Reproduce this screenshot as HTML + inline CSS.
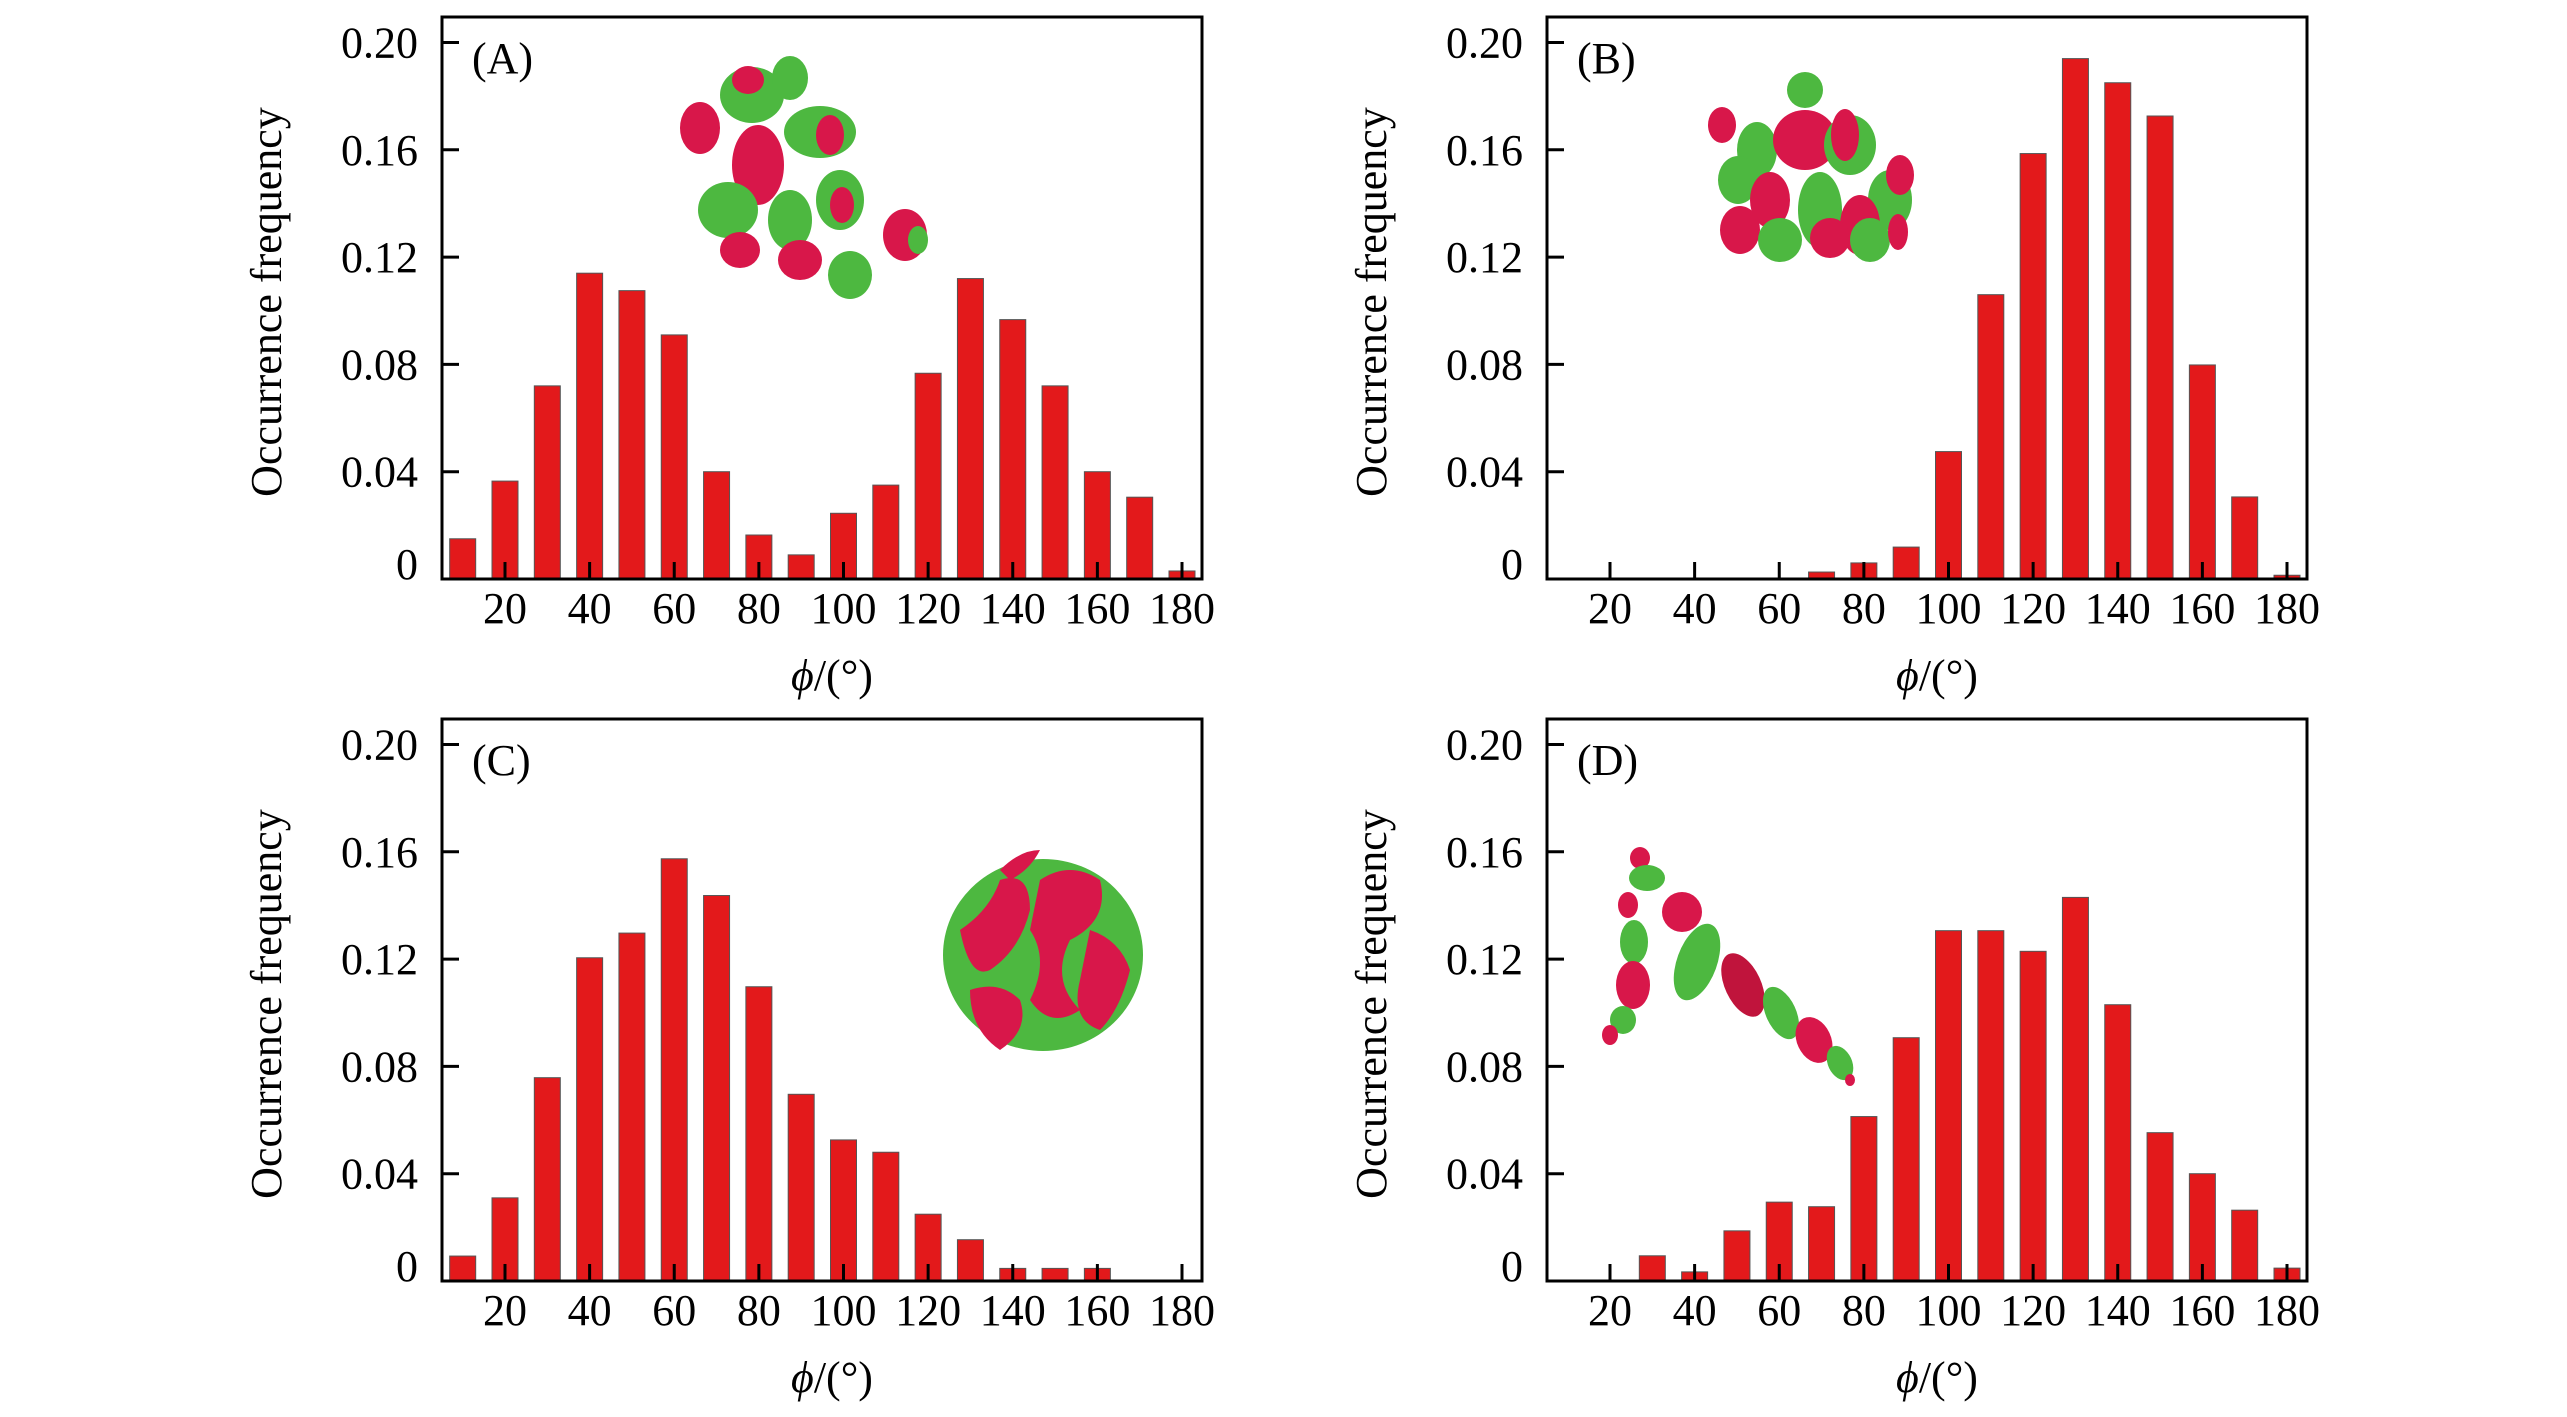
<!DOCTYPE html>
<html><head><meta charset="utf-8"><style>
html,body{margin:0;padding:0;background:#fff;}
svg{display:block;}
text{font-family:"Liberation Serif",serif;fill:#000;}
</style></head><body>
<svg id="fig" width="2567" height="1417" viewBox="0 0 2567 1417" xmlns="http://www.w3.org/2000/svg">
<g id="mols">
 <g>
  <ellipse cx="700" cy="128" rx="20" ry="26" fill="#d8174a"/>
  <ellipse cx="752" cy="95" rx="32" ry="28" fill="#4db840"/>
  <ellipse cx="748" cy="80" rx="16" ry="14" fill="#d8174a"/>
  <ellipse cx="790" cy="78" rx="18" ry="22" fill="#4db840"/>
  <ellipse cx="820" cy="132" rx="36" ry="26" fill="#4db840"/>
  <ellipse cx="830" cy="135" rx="14" ry="20" fill="#d8174a"/>
  <ellipse cx="758" cy="165" rx="26" ry="40" fill="#d8174a"/>
  <ellipse cx="728" cy="210" rx="30" ry="28" fill="#4db840"/>
  <ellipse cx="740" cy="250" rx="20" ry="18" fill="#d8174a"/>
  <ellipse cx="790" cy="220" rx="22" ry="30" fill="#4db840"/>
  <ellipse cx="840" cy="200" rx="24" ry="30" fill="#4db840"/>
  <ellipse cx="842" cy="205" rx="12" ry="18" fill="#d8174a"/>
  <ellipse cx="800" cy="260" rx="22" ry="20" fill="#d8174a"/>
  <ellipse cx="850" cy="275" rx="22" ry="24" fill="#4db840"/>
  <ellipse cx="905" cy="235" rx="22" ry="26" fill="#d8174a"/>
  <ellipse cx="918" cy="240" rx="10" ry="14" fill="#4db840"/>
 </g>
 <g>
  <ellipse cx="1722" cy="125" rx="14" ry="18" fill="#d8174a"/>
  <ellipse cx="1805" cy="90" rx="18" ry="18" fill="#4db840"/>
  <ellipse cx="1757" cy="150" rx="20" ry="28" fill="#4db840"/>
  <ellipse cx="1805" cy="140" rx="32" ry="30" fill="#d8174a"/>
  <ellipse cx="1850" cy="145" rx="26" ry="30" fill="#4db840"/>
  <ellipse cx="1845" cy="135" rx="14" ry="26" fill="#d8174a"/>
  <ellipse cx="1890" cy="200" rx="22" ry="30" fill="#4db840"/>
  <ellipse cx="1900" cy="175" rx="14" ry="20" fill="#d8174a"/>
  <ellipse cx="1738" cy="180" rx="20" ry="24" fill="#4db840"/>
  <ellipse cx="1770" cy="200" rx="20" ry="28" fill="#d8174a"/>
  <ellipse cx="1820" cy="210" rx="22" ry="38" fill="#4db840"/>
  <ellipse cx="1860" cy="225" rx="20" ry="30" fill="#d8174a"/>
  <ellipse cx="1740" cy="230" rx="20" ry="24" fill="#d8174a"/>
  <ellipse cx="1780" cy="240" rx="22" ry="22" fill="#4db840"/>
  <ellipse cx="1830" cy="238" rx="20" ry="20" fill="#d8174a"/>
  <ellipse cx="1870" cy="240" rx="20" ry="22" fill="#4db840"/>
  <ellipse cx="1898" cy="232" rx="10" ry="18" fill="#d8174a"/>
 </g>
 <g>
  <ellipse cx="1043" cy="955" rx="100" ry="96" fill="#4db840"/>
  <path d="M960,930 q30,-20 40,-50 q30,-10 30,30 q-10,40 -40,60 q-20,10 -30,-40z" fill="#d8174a"/>
  <path d="M1040,880 q30,-20 60,0 q10,40 -30,60 q-20,40 10,70 q-30,20 -50,-10 q20,-40 0,-70z" fill="#d8174a"/>
  <path d="M1090,930 q30,10 40,40 q-10,40 -30,60 q-30,-10 -20,-50z" fill="#d8174a"/>
  <path d="M970,990 q30,-10 50,10 q10,30 -20,50 q-30,-20 -30,-60z" fill="#d8174a"/>
  <path d="M1000,870 q20,-20 40,-20 q-10,20 -30,30z" fill="#d8174a"/>
 </g>
 <g>
  <ellipse cx="1640" cy="858" rx="10" ry="11" fill="#d8174a"/>
  <ellipse cx="1647" cy="878" rx="18" ry="13" fill="#4db840"/>
  <ellipse cx="1628" cy="905" rx="10" ry="13" fill="#d8174a"/>
  <ellipse cx="1682" cy="912" rx="20" ry="20" fill="#d8174a"/>
  <ellipse cx="1634" cy="942" rx="14" ry="22" fill="#4db840"/>
  <ellipse cx="1633" cy="985" rx="17" ry="24" fill="#d8174a"/>
  <ellipse cx="1623" cy="1020" rx="13" ry="14" fill="#4db840"/>
  <ellipse cx="1610" cy="1035" rx="8" ry="10" fill="#d8174a"/>
  <ellipse cx="1697" cy="962" rx="20" ry="40" transform="rotate(20 1697 962)" fill="#4db840"/>
  <ellipse cx="1743" cy="985" rx="18" ry="34" transform="rotate(-25 1743 985)" fill="#c0143c"/>
  <ellipse cx="1781" cy="1013" rx="15" ry="28" transform="rotate(-25 1781 1013)" fill="#4db840"/>
  <ellipse cx="1814" cy="1040" rx="17" ry="24" transform="rotate(-25 1814 1040)" fill="#d8174a"/>
  <ellipse cx="1840" cy="1063" rx="12" ry="18" transform="rotate(-25 1840 1063)" fill="#4db840"/>
  <ellipse cx="1850" cy="1080" rx="5" ry="6" fill="#d8174a"/>
 </g>
</g>
</svg>
<script>
const categories = [10,20,30,40,50,60,70,80,90,100,110,120,130,140,150,160,170,180];
const valuesA = [0.015,0.0365,0.072,0.114,0.1075,0.091,0.040,0.0164,0.009,0.0245,0.035,0.0767,0.112,0.0967,0.072,0.040,0.0305,0.003];
const valuesB = [0,0,0,0,0,0,0.0026,0.006,0.0119,0.0475,0.106,0.1586,0.194,0.185,0.1726,0.0798,0.0306,0.0014];
const valuesC = [0.0093,0.031,0.0758,0.1205,0.1297,0.1574,0.1437,0.1097,0.0696,0.0526,0.048,0.0249,0.0154,0.0047,0.0047,0.0047,0,0];
const valuesD = [0,0,0.0094,0.0034,0.0187,0.0294,0.0277,0.0613,0.0907,0.1306,0.1306,0.1229,0.143,0.103,0.0553,0.040,0.0264,0.0048];
const xTicks = [20,40,60,80,100,120,140,160,180];
const yTicks = [0,0.04,0.08,0.12,0.16,0.20];
const yTickLabels = ["0","0.04","0.08","0.12","0.16","0.20"];
const panelLabels = ["(A)","(B)","(C)","(D)"];

const NS="http://www.w3.org/2000/svg";
const svg=document.getElementById('fig');
const mols=document.getElementById('mols');
function mk(tag,attrs,parent){const e=document.createElementNS(NS,tag);for(const k in attrs)e.setAttribute(k,attrs[k]);(parent||svg).appendChild(e);return e;}

const panels=[{dx:0,dy:0,v:valuesA,id:'a'},{dx:1105,dy:0,v:valuesB,id:'b'},{dx:0,dy:702,v:valuesC,id:'c'},{dx:1105,dy:702,v:valuesD,id:'d'}];
panels.forEach((p,pi)=>{
  const g=mk('g',{});
  
  
  svg.insertBefore(g,mols);
  const left=442+p.dx,right=1202+p.dx,top=17+p.dy,zero=579+p.dy;
  const perDeg=(1182-505)/160;
  const xs=d=>505+p.dx+(d-20)*perDeg;
  const ys=v=>zero-v*(107.3/0.04);
  p.v.forEach((val,i)=>{
    if(val<=0)return;
    const y=ys(val);
    const r=mk('rect',{x:xs(categories[i])-13,y:y,width:26,height:zero-y,fill:'#e3191b',stroke:'#555',"stroke-width":1},g);
    
    
  });
  const f=mk('rect',{x:left,y:top,width:right-left,height:zero-top,fill:'none',stroke:'#000',"stroke-width":3},g);
  
  
  xTicks.forEach(t=>{
    const x=xs(t);
    mk('line',{x1:x,x2:x,y1:zero,y2:zero-17,stroke:'#000',"stroke-width":3},g);
    const tx=mk('text',{x:x,y:zero+44,"font-size":44,"text-anchor":"middle"},g);
    tx.textContent=t;
    
    
  });
  yTicks.forEach((t,i)=>{
    const y=ys(t);
    if(i>0)mk('line',{x1:left,x2:left+17,y1:y,y2:y,stroke:'#000',"stroke-width":3},g);
    const tx=mk('text',{x:418+p.dx,y:i===0?y:y+15,"font-size":44,"text-anchor":"end"},g);
    tx.textContent=yTickLabels[i];
    
    
  });
  const pl=mk('text',{x:472+p.dx,y:73+p.dy,"font-size":44},g);
  pl.textContent=panelLabels[pi];
  
  
  const yt=mk('text',{x:0,y:0,"font-size":44,"text-anchor":"middle",transform:`translate(${281+p.dx},${302+p.dy}) rotate(-90)`},g);
  yt.textContent='Occurrence frequency';
  
  
  const xt=mk('text',{x:832+p.dx,y:690+p.dy,"font-size":44,"text-anchor":"middle"},g);
  xt.innerHTML='<tspan font-style="italic">ϕ</tspan>/(°)';
  
  
});
</script>
</body></html>
